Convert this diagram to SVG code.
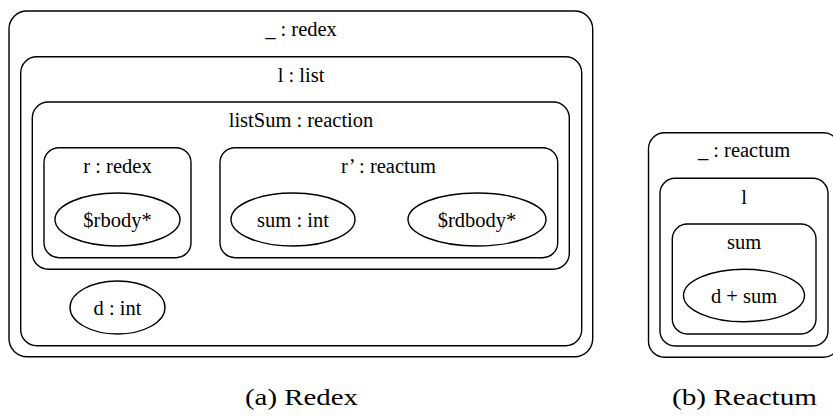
<svg xmlns="http://www.w3.org/2000/svg" width="833" height="418" viewBox="0 0 833 418">
<style>
.box{fill:none;stroke:#000;stroke-width:1.4}
.el{fill:none;stroke:#000;stroke-width:1.4}
text{font-family:"Liberation Serif","Times New Roman",serif;font-size:20.5px;fill:#000;text-anchor:middle}
.cap{font-family:"Liberation Serif","Times New Roman",serif;font-size:24px}
</style>
<rect width="833" height="418" fill="#fff"/>
<g id="redex-outer">
<rect class="box" x="9" y="11" width="583.7" height="345.7" rx="18"/>
<text x="301" y="36">_ : redex</text>
</g>
<g id="l-list">
<rect class="box" x="20.7" y="56.7" width="561" height="289" rx="16"/>
<text x="301" y="81.5">l : list</text>
</g>
<g id="listSum">
<rect class="box" x="32.3" y="102" width="537" height="167.3" rx="16"/>
<text x="301" y="127">listSum : reaction</text>
</g>
<g id="r-redex">
<rect class="box" x="44" y="147.7" width="147" height="110" rx="15"/>
<text x="117.5" y="172.5">r : redex</text>
</g>
<g id="rbody">
<ellipse class="el" cx="117.5" cy="219.5" rx="62.5" ry="26.5"/>
<text x="117.5" y="226.5">$rbody*</text>
</g>
<g id="r-reactum">
<rect class="box" x="220" y="147.7" width="337.7" height="110" rx="15"/>
<text x="388.5" y="172.5">r’ : reactum</text>
</g>
<g id="sum-int">
<ellipse class="el" cx="293" cy="219.5" rx="62" ry="26.5"/>
<text x="293" y="226.5">sum : int</text>
</g>
<g id="rdbody">
<ellipse class="el" cx="477" cy="219.5" rx="69" ry="26.5"/>
<text x="477" y="226.5">$rdbody*</text>
</g>
<g id="d-int">
<ellipse class="el" cx="117.5" cy="307.5" rx="47.5" ry="26.5"/>
<text x="117.5" y="314.5">d : int</text>
</g>
<g id="reactum-outer">
<rect class="box" x="648.5" y="132.7" width="191" height="224.6" rx="16"/>
<text x="744" y="156.5">_ : reactum</text>
</g>
<g id="reactum-l">
<rect class="box" x="660" y="178.3" width="168" height="167.7" rx="15"/>
<text x="744" y="204">l</text>
</g>
<g id="reactum-sum">
<rect class="box" x="672.3" y="224" width="143.7" height="110" rx="15"/>
<text x="744" y="248.5">sum</text>
</g>
<g id="d-plus-sum">
<ellipse class="el" cx="744" cy="295.5" rx="60.5" ry="26.2"/>
<text x="744" y="303">d + sum</text>
</g>
<g id="connectors"></g>
<text class="cap" x="301.5" y="405" textLength="113" lengthAdjust="spacingAndGlyphs">(a) Redex</text>
<text class="cap" x="744.5" y="405" textLength="145" lengthAdjust="spacingAndGlyphs">(b) Reactum</text>
</svg>
